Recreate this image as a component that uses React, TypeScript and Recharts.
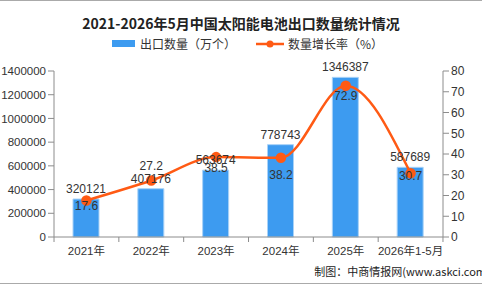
import { ComposedChart, Bar, Line, XAxis, YAxis, LabelList } from 'recharts';

const categories = ['2021年', '2022年', '2023年', '2024年', '2025年', '2026年1-5月'];
const exportVolume = [320121, 407176, 563674, 778743, 1346387, 587689];
const growthRate = [17.6, 27.2, 38.5, 38.2, 72.9, 30.7];
const leftTicks = [0, 200000, 400000, 600000, 800000, 1000000, 1200000, 1400000];
const rightTicks = [0, 10, 20, 30, 40, 50, 60, 70, 80];

const BAR_COLOR = '#3d9bf0';
const LINE_COLOR = '#ff5a14';
const AXIS_COLOR = '#8c8c8c';
const TEXT_COLOR = '#333';
const AXIS_FONT = '"Liberation Sans", Arial, sans-serif';
const NARROW_FONT = '"Liberation Sans Narrow", "Liberation Sans", "Noto Sans CJK SC", sans-serif';
const CJK_FONT = '"Noto Sans CJK SC", sans-serif';

// vertical nudge for each growth-rate label, relative to its point
const GROWTH_LABEL_DY = [10, -11, 15, 21, 14, 7];
const BAND = 64.8;

const data = categories.map((name, i) => ({ name, volume: exportVolume[i], rate: growthRate[i] }));

function CategoryTick(props: any) {
  const { x, y, payload, index } = props;
  const last = index === categories.length - 1;
  return (
    <g>
      <line x1={x - BAND / 2} y1={y - 8} x2={x - BAND / 2} y2={y - 3} stroke={AXIS_COLOR} />
      {last && <line x1={x + BAND / 2} y1={y - 8} x2={x + BAND / 2} y2={y - 3} stroke={AXIS_COLOR} />}
      <text x={x} y={y + 10} textAnchor="middle" fontSize={11.5} fill={TEXT_COLOR} fontFamily={NARROW_FONT}>
        {payload.value}
      </text>
    </g>
  );
}

function RateLabel(props: any) {
  const { x, y, value, index } = props;
  return (
    <text x={x} y={y + GROWTH_LABEL_DY[index]} textAnchor="middle" fontSize={12} fill={TEXT_COLOR} fontFamily={NARROW_FONT}>
      {value}
    </text>
  );
}

function LegendRow() {
  return (
    <div style={{ display: 'flex', alignItems: 'center', fontFamily: CJK_FONT, fontSize: 12, color: TEXT_COLOR }}>
      <span style={{ display: 'inline-block', width: 23, height: 7, background: BAR_COLOR, marginRight: 5 }} />
      <span>出口数量（万个）</span>
      <svg width={28} height={10} style={{ marginLeft: 20, marginRight: 4 }}>
        <line x1={0} y1={5} x2={28} y2={5} stroke={LINE_COLOR} strokeWidth={2.5} />
        <circle cx={14} cy={5} r={3.5} fill={LINE_COLOR} />
      </svg>
      <span>数量增长率（%）</span>
    </div>
  );
}

export default function App() {
  return (
    <div style={{ position: 'fixed', left: 0, top: 0, width: 482, height: 284, background: '#fff', borderTop: '1px solid #aaa', borderBottom: '1px solid #aaa', boxSizing: 'border-box', overflow: 'hidden' }}>
      <div style={{ position: 'absolute', left: 0, width: 482, top: 12, textAlign: 'center', fontFamily: CJK_FONT, fontWeight: 'bold', fontSize: 14, color: '#222' }}>
        2021-2026年5月中国太阳能电池出口数量统计情况
      </div>
      <div style={{ position: 'absolute', top: 34, left: 112 }}>
        <LegendRow />
      </div>
      <div style={{ position: 'absolute', top: 262, right: -4, fontFamily: CJK_FONT, fontSize: 11, color: '#222' }}>
        制图：中商情报网(www.askci.com
      </div>
      <div style={{ position: 'absolute', left: 0, top: -1 }}>
        <ComposedChart width={482} height={284} data={data} margin={{ top: 71, right: 0, bottom: 27, left: 0 }}>
          <XAxis dataKey="name" axisLine={{ stroke: AXIS_COLOR }} tickLine={false} tick={<CategoryTick />} height={20} interval={0} />
          <YAxis yAxisId="left" width={54} domain={[0, 1400000]} ticks={leftTicks} interval={0}
            axisLine={{ stroke: AXIS_COLOR }} tickLine={{ stroke: AXIS_COLOR }} tickSize={6}
            tick={{ fontSize: 11.5, fill: TEXT_COLOR, fontFamily: AXIS_FONT }} />
          <YAxis yAxisId="right" orientation="right" width={39} domain={[0, 80]} ticks={rightTicks} interval={0}
            axisLine={{ stroke: AXIS_COLOR }} tickLine={{ stroke: AXIS_COLOR }} tickSize={6}
            tick={{ fontSize: 12, fill: TEXT_COLOR, fontFamily: AXIS_FONT }} />
          <Bar yAxisId="left" dataKey="volume" fill={BAR_COLOR} stroke="#a9d2f7" strokeWidth={1} barSize={26} isAnimationActive={false}>
            <LabelList dataKey="volume" position="top" offset={6} fontSize={12} fill={TEXT_COLOR} fontFamily={NARROW_FONT} />
          </Bar>
          <Line yAxisId="right" type="monotone" dataKey="rate" stroke={LINE_COLOR} strokeWidth={2.5}
            dot={{ r: 4, fill: LINE_COLOR, stroke: LINE_COLOR }} isAnimationActive={false}>
            <LabelList dataKey="rate" content={<RateLabel />} />
          </Line>
        </ComposedChart>
      </div>
    </div>
  );
}
